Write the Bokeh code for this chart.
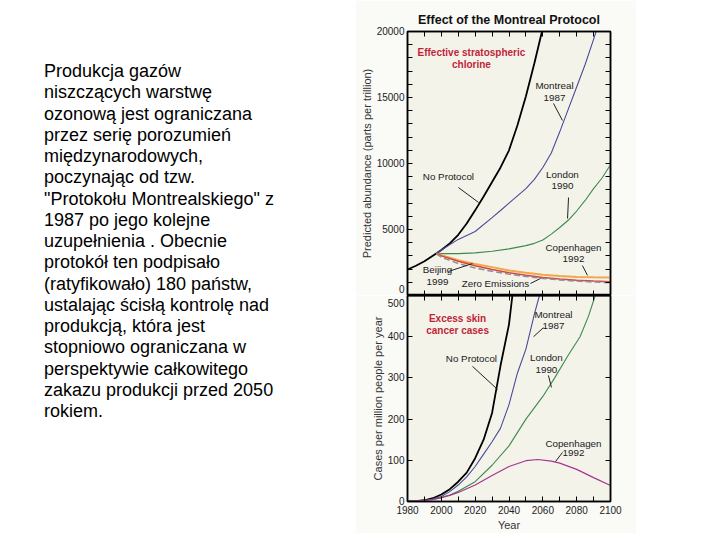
from bokeh.plotting import figure
from bokeh.models import Div, Label, LinearAxis, FixedTicker, Range1d, Title
from bokeh.layouts import row, column
from bokeh.embed import file_html
from bokeh.resources import INLINE

FONT = "Liberation Sans"

# ---------------- data: effective stratospheric chlorine (ppt) ----------------
np_years = [1980, 1985, 1990, 1997, 2000, 2005, 2010, 2015, 2020, 2025, 2030, 2035, 2040, 2045, 2050, 2055, 2059.5]
np_cl = [1970, 2250, 2600, 3180, 3450, 3950, 4600, 5450, 6450, 7500, 8600, 9700, 11000, 12900, 15100, 17600, 20000]

mo_years = [1997, 2000, 2010, 2020, 2030, 2035, 2040, 2045, 2050, 2055, 2060, 2065, 2070, 2075, 2080, 2085, 2090, 2091.5]
mo_cl = [3180, 3450, 4250, 4850, 5900, 6440, 7000, 7550, 8100, 8800, 9700, 10800, 12400, 14100, 15800, 17500, 19400, 20000]

lo_years = [1997, 2000, 2010, 2020, 2030, 2040, 2050, 2055, 2060, 2065, 2070, 2075, 2080, 2085, 2090, 2095, 2100]
lo_cl = [3180, 3170, 3170, 3230, 3350, 3530, 3780, 3950, 4200, 4650, 5150, 5700, 6400, 7200, 8100, 8900, 9900]

dec_years = [1997, 2000, 2010, 2020, 2030, 2040, 2050, 2060, 2070, 2080, 2090, 2100]
co_cl = [3180, 3050, 2680, 2380, 2150, 1900, 1720, 1570, 1470, 1410, 1380, 1360]
be_cl = [3180, 3000, 2600, 2250, 1970, 1730, 1530, 1370, 1250, 1160, 1090, 1040]
ze_cl = [3150, 2900, 2420, 2080, 1830, 1620, 1440, 1290, 1180, 1090, 1020, 970]

# ---------------- data: excess skin cancer cases (per million per year) ----------------
np2_years = [1980, 1985, 1990, 1995, 2000, 2005, 2010, 2015, 2020, 2025, 2030, 2035, 2040, 2042]
np2_cases = [0, 1, 3, 8, 17, 30, 48, 70, 105, 150, 215, 330, 430, 500]

mo2_years = [1980, 1985, 1990, 1995, 2000, 2005, 2010, 2015, 2020, 2025, 2030, 2035, 2040, 2045, 2050, 2055, 2058]
mo2_cases = [0, 1, 2, 6, 12, 24, 40, 60, 85, 115, 145, 178, 235, 312, 370, 455, 500]

lo2_years = [1980, 1985, 1990, 1995, 2000, 2005, 2010, 2020, 2030, 2040, 2050, 2060, 2067, 2075, 2082, 2087, 2091]
lo2_cases = [0, 1, 2, 5, 10, 16, 25, 48, 88, 135, 200, 255, 300, 355, 400, 450, 500]

co2_years = [1980, 1985, 1990, 1995, 2000, 2005, 2010, 2020, 2030, 2040, 2050, 2057, 2065, 2070, 2080, 2090, 2100]
co2_cases = [0, 1, 2, 5, 9, 15, 22, 40, 63, 85, 99, 102, 98, 93, 78, 58, 39]

x_ticks = [1980, 2000, 2020, 2040, 2060, 2080, 2100]
x_minor = [1990, 2010, 2030, 2050, 2070, 2090]
y1_ticks = [0, 5000, 10000, 15000, 20000]
y1_minor = [v for v in range(1000, 20000, 1000) if v % 5000]
y2_ticks = [0, 100, 200, 300, 400, 500]

slide_lines = [
    "Produkcja gazów", "niszczących warstwę", "ozonową jest ograniczana",
    "przez serię porozumień", "międzynarodowych,", "poczynając od tzw.",
    "\"Protokołu Montrealskiego\" z", "1987 po jego kolejne", "uzupełnienia . Obecnie",
    "protokół ten podpisało", "(ratyfikowało) 180 państw,", "ustalając ścisłą kontrolę nad",
    "produkcją, która jest", "stopniowo ograniczana w", "perspektywie całkowitego",
    "zakazu produkcji przed 2050", "rokiem.",
]

# annotation texts (text, x, y) and leader lines (x0, y0, x1, y1) in data units
top_notes = [("Montreal", 2066.9, 15910), ("1987", 2066.9, 15000),
             ("No Protocol", 2004.2, 9015),
             ("London", 2071.6, 9170), ("1990", 2071.6, 8260),
             ("Copenhagen", 2078.1, 3640), ("1992", 2078.1, 2800),
             ("Beijing", 1997.7, 1970), ("1999", 1997.7, 985),
             ("Zero Emissions", 2032.0, 910)]
top_leaders = [(2066.3, 14550, 2071.6, 13260), (2010.1, 8180, 2022.0, 7050),
               (2075.2, 7420, 2074.6, 5830), (2083.4, 2270, 2086.4, 1520),
               (2004.2, 1820, 2018.4, 2420), (2052.7, 910, 2058.6, 1290)]
bot_notes = [("Montreal", 2066.3, 454), ("1987", 2066.3, 425),
             ("No Protocol", 2017.8, 347),
             ("London", 2062.1, 350), ("1990", 2062.1, 320),
             ("Copenhagen", 2078.1, 141), ("1992", 2078.1, 117)]
bot_leaders = [(2060.4, 422, 2054.5, 400), (2018.4, 328, 2033.2, 272),
               (2063.3, 306, 2065.1, 277), (2071.6, 119, 2067.5, 97)]

PLOT_BG = "#f3f3ea"
BORDER_BG = "#fafaf7"
TICK_COLOR = "#222222"
RED_TXT = "#c21f3a"


def mirror_axis(ticker):
    ax = LinearAxis(ticker=ticker, major_label_text_font_size="0px", major_label_standoff=0,
                    major_label_text_color=None,
                    major_tick_in=5, major_tick_out=0, minor_tick_in=5, minor_tick_out=0,
                    axis_line_color="black", axis_line_width=1.5,
                    major_tick_line_color="black", minor_tick_line_color="black")
    return ax


def style_main_axis(ax, size="10px"):
    ax.major_label_text_font = FONT
    ax.major_label_text_font_size = size
    ax.major_label_text_color = TICK_COLOR
    ax.major_tick_in = 5
    ax.major_tick_out = 0
    ax.minor_tick_in = 5
    ax.minor_tick_out = 0
    ax.major_label_standoff = 3
    ax.axis_line_color = "black"
    ax.axis_line_width = 1.5
    ax.axis_label_text_font = FONT
    ax.axis_label_text_font_size = "11px"
    ax.axis_label_text_font_style = "normal"
    ax.axis_label_text_color = "#333333"
    ax.axis_label_standoff = 1


# ---------------- top panel ----------------
p1 = figure(frame_width=203, frame_height=264, x_range=Range1d(1980, 2100), y_range=Range1d(0, 20000),
            output_backend="svg", toolbar_location=None,
            min_border_left=52, min_border_right=26, min_border_top=31, min_border_bottom=0,
            background_fill_color=PLOT_BG, border_fill_color=BORDER_BG,
            outline_line_color="black", outline_line_width=1.5)
p1.grid.visible = False
p1.title = Title(text="Effect of the Montreal Protocol", align="center", text_font=FONT,
                 text_font_size="12.5px", text_font_style="bold", text_color="#111111", standoff=10)
p1.xaxis.ticker = FixedTicker(ticks=x_ticks, minor_ticks=x_minor)
p1.xaxis.major_label_text_font_size = "0px"
p1.xaxis.major_label_text_color = None
p1.xaxis.major_label_standoff = 0
p1.xaxis.major_tick_in = 5
p1.xaxis.major_tick_out = 0
p1.xaxis.minor_tick_in = 5
p1.xaxis.minor_tick_out = 0
p1.xaxis.axis_line_width = 2
p1.yaxis.ticker = FixedTicker(ticks=y1_ticks, minor_ticks=y1_minor)
style_main_axis(p1.yaxis[0])
p1.yaxis.axis_label = "Predicted abundance (parts per trillion)"
p1.yaxis.major_label_overrides = {0: "0\n "}
p1.yaxis.major_label_text_line_height = 0.05
p1.add_layout(mirror_axis(FixedTicker(ticks=x_ticks, minor_ticks=x_minor)), "above")
p1.add_layout(mirror_axis(FixedTicker(ticks=y1_ticks, minor_ticks=y1_minor)), "right")

p1.line(np_years, np_cl, line_color="black", line_width=1.8)
p1.line(mo_years, mo_cl, line_color="#4a4a98", line_width=1.1)
p1.line(lo_years, lo_cl, line_color="#3d8a4e", line_width=1.1)
p1.line(dec_years, co_cl, line_color="#f0a64a", line_width=2.0)
p1.line(dec_years, be_cl, line_color="#d9463c", line_width=1.5)
p1.line(dec_years, ze_cl, line_color="#8d8d9e", line_width=1.5, line_dash="6 3")

for t, y in (("Effective stratospheric", 18410), ("chlorine", 17500)):
    p1.add_layout(Label(x=2017.8, y=y, text=t, text_align="center",
                        text_baseline="middle", text_font=FONT, text_font_size="10px",
                        text_font_style="bold", text_color=RED_TXT))
for t, x, y in top_notes:
    p1.add_layout(Label(x=x, y=y, text=t, text_align="center", text_baseline="middle",
                        text_font=FONT, text_font_size="9.8px", text_color="#1a1a1a"))
p1.segment([s[0] for s in top_leaders], [s[1] for s in top_leaders],
           [s[2] for s in top_leaders], [s[3] for s in top_leaders],
           line_color="#222222", line_width=1)

# ---------------- bottom panel ----------------
p2 = figure(frame_width=203, frame_height=206, x_range=Range1d(1980, 2100), y_range=Range1d(0, 500),
            output_backend="svg", toolbar_location=None,
            min_border_left=52, min_border_right=26, min_border_top=0, min_border_bottom=10,
            background_fill_color=PLOT_BG, border_fill_color=BORDER_BG,
            outline_line_color="black", outline_line_width=1.5)
p2.grid.visible = False
p2.xaxis.ticker = FixedTicker(ticks=x_ticks, minor_ticks=x_minor)
style_main_axis(p2.xaxis[0], "10px")
p2.xaxis.major_label_standoff = 4
p2.xaxis.axis_label = "Year"
p2.xaxis.axis_label_standoff = 2
p2.yaxis.ticker = FixedTicker(ticks=y2_ticks)
style_main_axis(p2.yaxis[0])
p2.yaxis.axis_label = "Cases per million people per year"
p2.yaxis.major_label_overrides = {500: " \n500"}
p2.yaxis.major_label_text_line_height = 0.22
ab = mirror_axis(FixedTicker(ticks=x_ticks, minor_ticks=x_minor))
ab.axis_line_width = 2
p2.add_layout(ab, "above")
p2.add_layout(mirror_axis(FixedTicker(ticks=y2_ticks)), "right")

p2.line(np2_years, np2_cases, line_color="black", line_width=1.8)
p2.line(mo2_years, mo2_cases, line_color="#4a4a98", line_width=1.1)
p2.line(lo2_years, lo2_cases, line_color="#3d8a4e", line_width=1.1)
p2.line(co2_years, co2_cases, line_color="#a8358f", line_width=1.2)

for t, y in (("Excess skin", 444), ("cancer cases", 415)):
    p2.add_layout(Label(x=2009.6, y=y, text=t, text_align="center",
                        text_baseline="middle", text_font=FONT, text_font_size="10px",
                        text_font_style="bold", text_color=RED_TXT))
for t, x, y in bot_notes:
    p2.add_layout(Label(x=x, y=y, text=t, text_align="center", text_baseline="middle",
                        text_font=FONT, text_font_size="9.8px", text_color="#1a1a1a"))
p2.segment([s[0] for s in bot_leaders], [s[1] for s in bot_leaders],
           [s[2] for s in bot_leaders], [s[3] for s in bot_leaders],
           line_color="#222222", line_width=1)

# ---------------- slide text ----------------
html = ("<div style=\"font-family:'Liberation Sans',Arial,sans-serif;font-size:18px;"
        "line-height:21.25px;color:#000;white-space:nowrap;padding-left:44px;padding-top:61px;\">"
        + "<br>".join(slide_lines) + "</div>")
div = Div(text=html, width=355, height=530, margin=(0, 0, 0, 0))

charts = column(p1, p2, spacing=0)
layout = row(div, charts, spacing=0)

open("out.html", "w").write(file_html(layout, INLINE))
